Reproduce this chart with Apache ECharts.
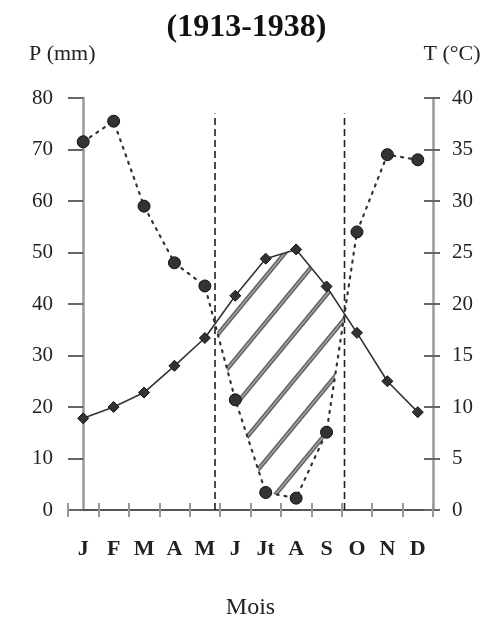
<!DOCTYPE html>
<html>
<head>
<meta charset="utf-8">
<script src="https://cdn.jsdelivr.net/npm/echarts@6/dist/echarts.min.js"></script>
<style>html,body{margin:0;padding:0;background:#fff;}#c{width:493px;height:625px;}</style>
</head>
<body>
<div id="c"></div>
<script>
// ---- data ----
const months = ['J','F','M','A','M','J','Jt','A','S','O','N','D'];
const precipitation = [71.5, 75.5, 59, 48, 43.5, 21.4, 3.4, 2.3, 15.1, 54, 69, 68];   // P (mm)
const temperature = [8.9, 10, 11.4, 14, 16.7, 20.8, 24.4, 25.3, 21.7, 17.2, 12.5, 9.5]; // T (°C)
const pAxis = {min: 0, max: 80, step: 10};
const tAxis = {min: 0, max: 40, step: 5};
const titleText = '(1913-1938)';

// ---- hatch pattern ----
const pw = 38, ph = 46;
const pat = document.createElement('canvas');
pat.width = pw; pat.height = ph;
(function () {
  const g = pat.getContext('2d');
  [-pw, 0, pw].forEach(function (s) {
    g.strokeStyle = '#666'; g.lineWidth = 4.5;
    g.beginPath(); g.moveTo(s - pw, 2 * ph); g.lineTo(s + 2 * pw, -ph); g.stroke();
    g.strokeStyle = '#aaa'; g.lineWidth = 1.2;
    g.beginPath(); g.moveTo(s - pw, 2 * ph); g.lineTo(s + 2 * pw, -ph); g.stroke();
  });
})();

const serif = 'Liberation Serif';
const chart = echarts.init(document.getElementById('c'), null, {renderer: 'canvas'});

function renderDry(params, api) {
  if (params.dataIndex !== 0) return;
  const k = pAxis.max / tAxis.max;
  const diff = i => precipitation[i] - temperature[i] * k;
  let x1 = null, x2 = null;
  for (let i = 0; i < months.length - 1; i++) {
    const a = diff(i), b = diff(i + 1);
    if (x1 === null && a > 0 && b <= 0) x1 = i + a / (a - b);
    else if (x1 !== null && x2 === null && a <= 0 && b > 0) x2 = i + (-a) / (b - a);
  }
  if (x1 === null || x2 === null) return;
  const tAt = x => { const i = Math.floor(x), f = x - i; return (temperature[i] + (temperature[i + 1] - temperature[i]) * f) * k; };
  const pts = [[x1, tAt(x1)]];
  for (let i = Math.ceil(x1); i <= Math.floor(x2); i++) pts.push([i, temperature[i] * k]);
  pts.push([x2, tAt(x2)]);
  for (let i = Math.floor(x2); i >= Math.ceil(x1); i--) pts.push([i, precipitation[i]]);
  const children = [{
    type: 'polygon',
    shape: {points: pts.map(p => api.coord(p))},
    style: {fill: {image: pat, repeat: 'repeat'}, stroke: null}
  }];
  [x1, x2].forEach(function (x) {
    const a = api.coord([x, 0]), b = api.coord([x, 77]);
    children.push({
      type: 'line',
      shape: {x1: a[0], y1: a[1], x2: b[0], y2: b[1]},
      style: {stroke: '#222', lineWidth: 1.6, lineDash: [7, 4]}
    });
  });
  return {type: 'group', children: children};
}

const yLabel = {fontFamily: serif, fontSize: 21, color: '#222'};

chart.setOption({
  animation: false,
  backgroundColor: '#fff',
  title: {
    text: titleText, left: 'center', top: 7,
    textStyle: {fontFamily: serif, fontWeight: 'bold', fontSize: 32, color: '#111'}
  },
  grid: {left: 68, right: 60, top: 98, bottom: 104},
  xAxis: [
    {
      type: 'category', data: months, boundaryGap: true,
      name: 'Mois', nameLocation: 'middle', nameGap: 86,
      nameTextStyle: {fontFamily: serif, fontSize: 24, color: '#222'},
      axisLine: {lineStyle: {color: '#555', width: 2}},
      axisTick: {show: true, length: 7, lineStyle: {color: '#999', width: 2}},
      axisLabel: {interval: 0, margin: 28, fontFamily: serif, fontWeight: 'bold', fontSize: 22, color: '#222'},
      splitLine: {show: false}
    },
    {
      type: 'category', data: months, boundaryGap: true, position: 'bottom',
      axisLine: {show: false},
      axisTick: {show: true, inside: true, length: 7, lineStyle: {color: '#999', width: 2}},
      axisLabel: {show: false}, splitLine: {show: false}
    },
    {
      type: 'value', min: -0.5, max: months.length - 0.5, show: false
    }
  ],
  yAxis: [
    {
      type: 'value', min: pAxis.min, max: pAxis.max, interval: pAxis.step, position: 'left',
      name: 'P (mm)', nameLocation: 'end', nameGap: 33,
      nameTextStyle: {fontFamily: serif, fontSize: 22, color: '#222', align: 'center', padding: [0, 42, 0, 0]},
      axisLine: {show: true, lineStyle: {color: '#999', width: 2.5}},
      axisTick: {show: true, length: 7, lineStyle: {color: '#666', width: 2}},
      axisLabel: Object.assign({margin: 15}, yLabel),
      splitLine: {show: false}
    },
    {
      type: 'value', min: tAxis.min, max: tAxis.max, interval: tAxis.step, position: 'right',
      name: 'T (°C)', nameLocation: 'end', nameGap: 33,
      nameTextStyle: {fontFamily: serif, fontSize: 22, color: '#222', align: 'center', padding: [0, 0, 0, 38]},
      axisLine: {show: true, lineStyle: {color: '#999', width: 2.5}},
      axisTick: {show: true, length: 7, lineStyle: {color: '#666', width: 2}},
      axisLabel: Object.assign({margin: 19}, yLabel),
      splitLine: {show: false}
    },
    {
      type: 'value', min: pAxis.min, max: pAxis.max, interval: pAxis.step, position: 'left',
      axisLine: {show: false}, axisLabel: {show: false}, splitLine: {show: false},
      axisTick: {show: true, inside: true, length: 9, lineStyle: {color: '#666', width: 2}}
    },
    {
      type: 'value', min: tAxis.min, max: tAxis.max, interval: tAxis.step, position: 'right',
      axisLine: {show: false}, axisLabel: {show: false}, splitLine: {show: false},
      axisTick: {show: true, inside: true, length: 9, lineStyle: {color: '#666', width: 2}}
    }
  ],
  series: [
    {
      type: 'custom', xAxisIndex: 2, yAxisIndex: 0, z: 1,
      renderItem: renderDry, data: [[0, 0]], silent: true
    },
    {
      name: 'P', type: 'line', xAxisIndex: 0, yAxisIndex: 0, data: precipitation, z: 3,
      symbol: 'circle', symbolSize: 12,
      itemStyle: {color: '#333', borderColor: '#111', borderWidth: 1},
      lineStyle: {color: '#333', width: 2.2, type: [2, 6], cap: 'round'}
    },
    {
      name: 'T', type: 'line', xAxisIndex: 0, yAxisIndex: 1, data: temperature, z: 4,
      symbol: 'diamond', symbolSize: 11,
      itemStyle: {color: '#333', borderColor: '#111', borderWidth: 1},
      lineStyle: {color: '#333', width: 1.6}
    }
  ]
});
</script>
</body>
</html>
